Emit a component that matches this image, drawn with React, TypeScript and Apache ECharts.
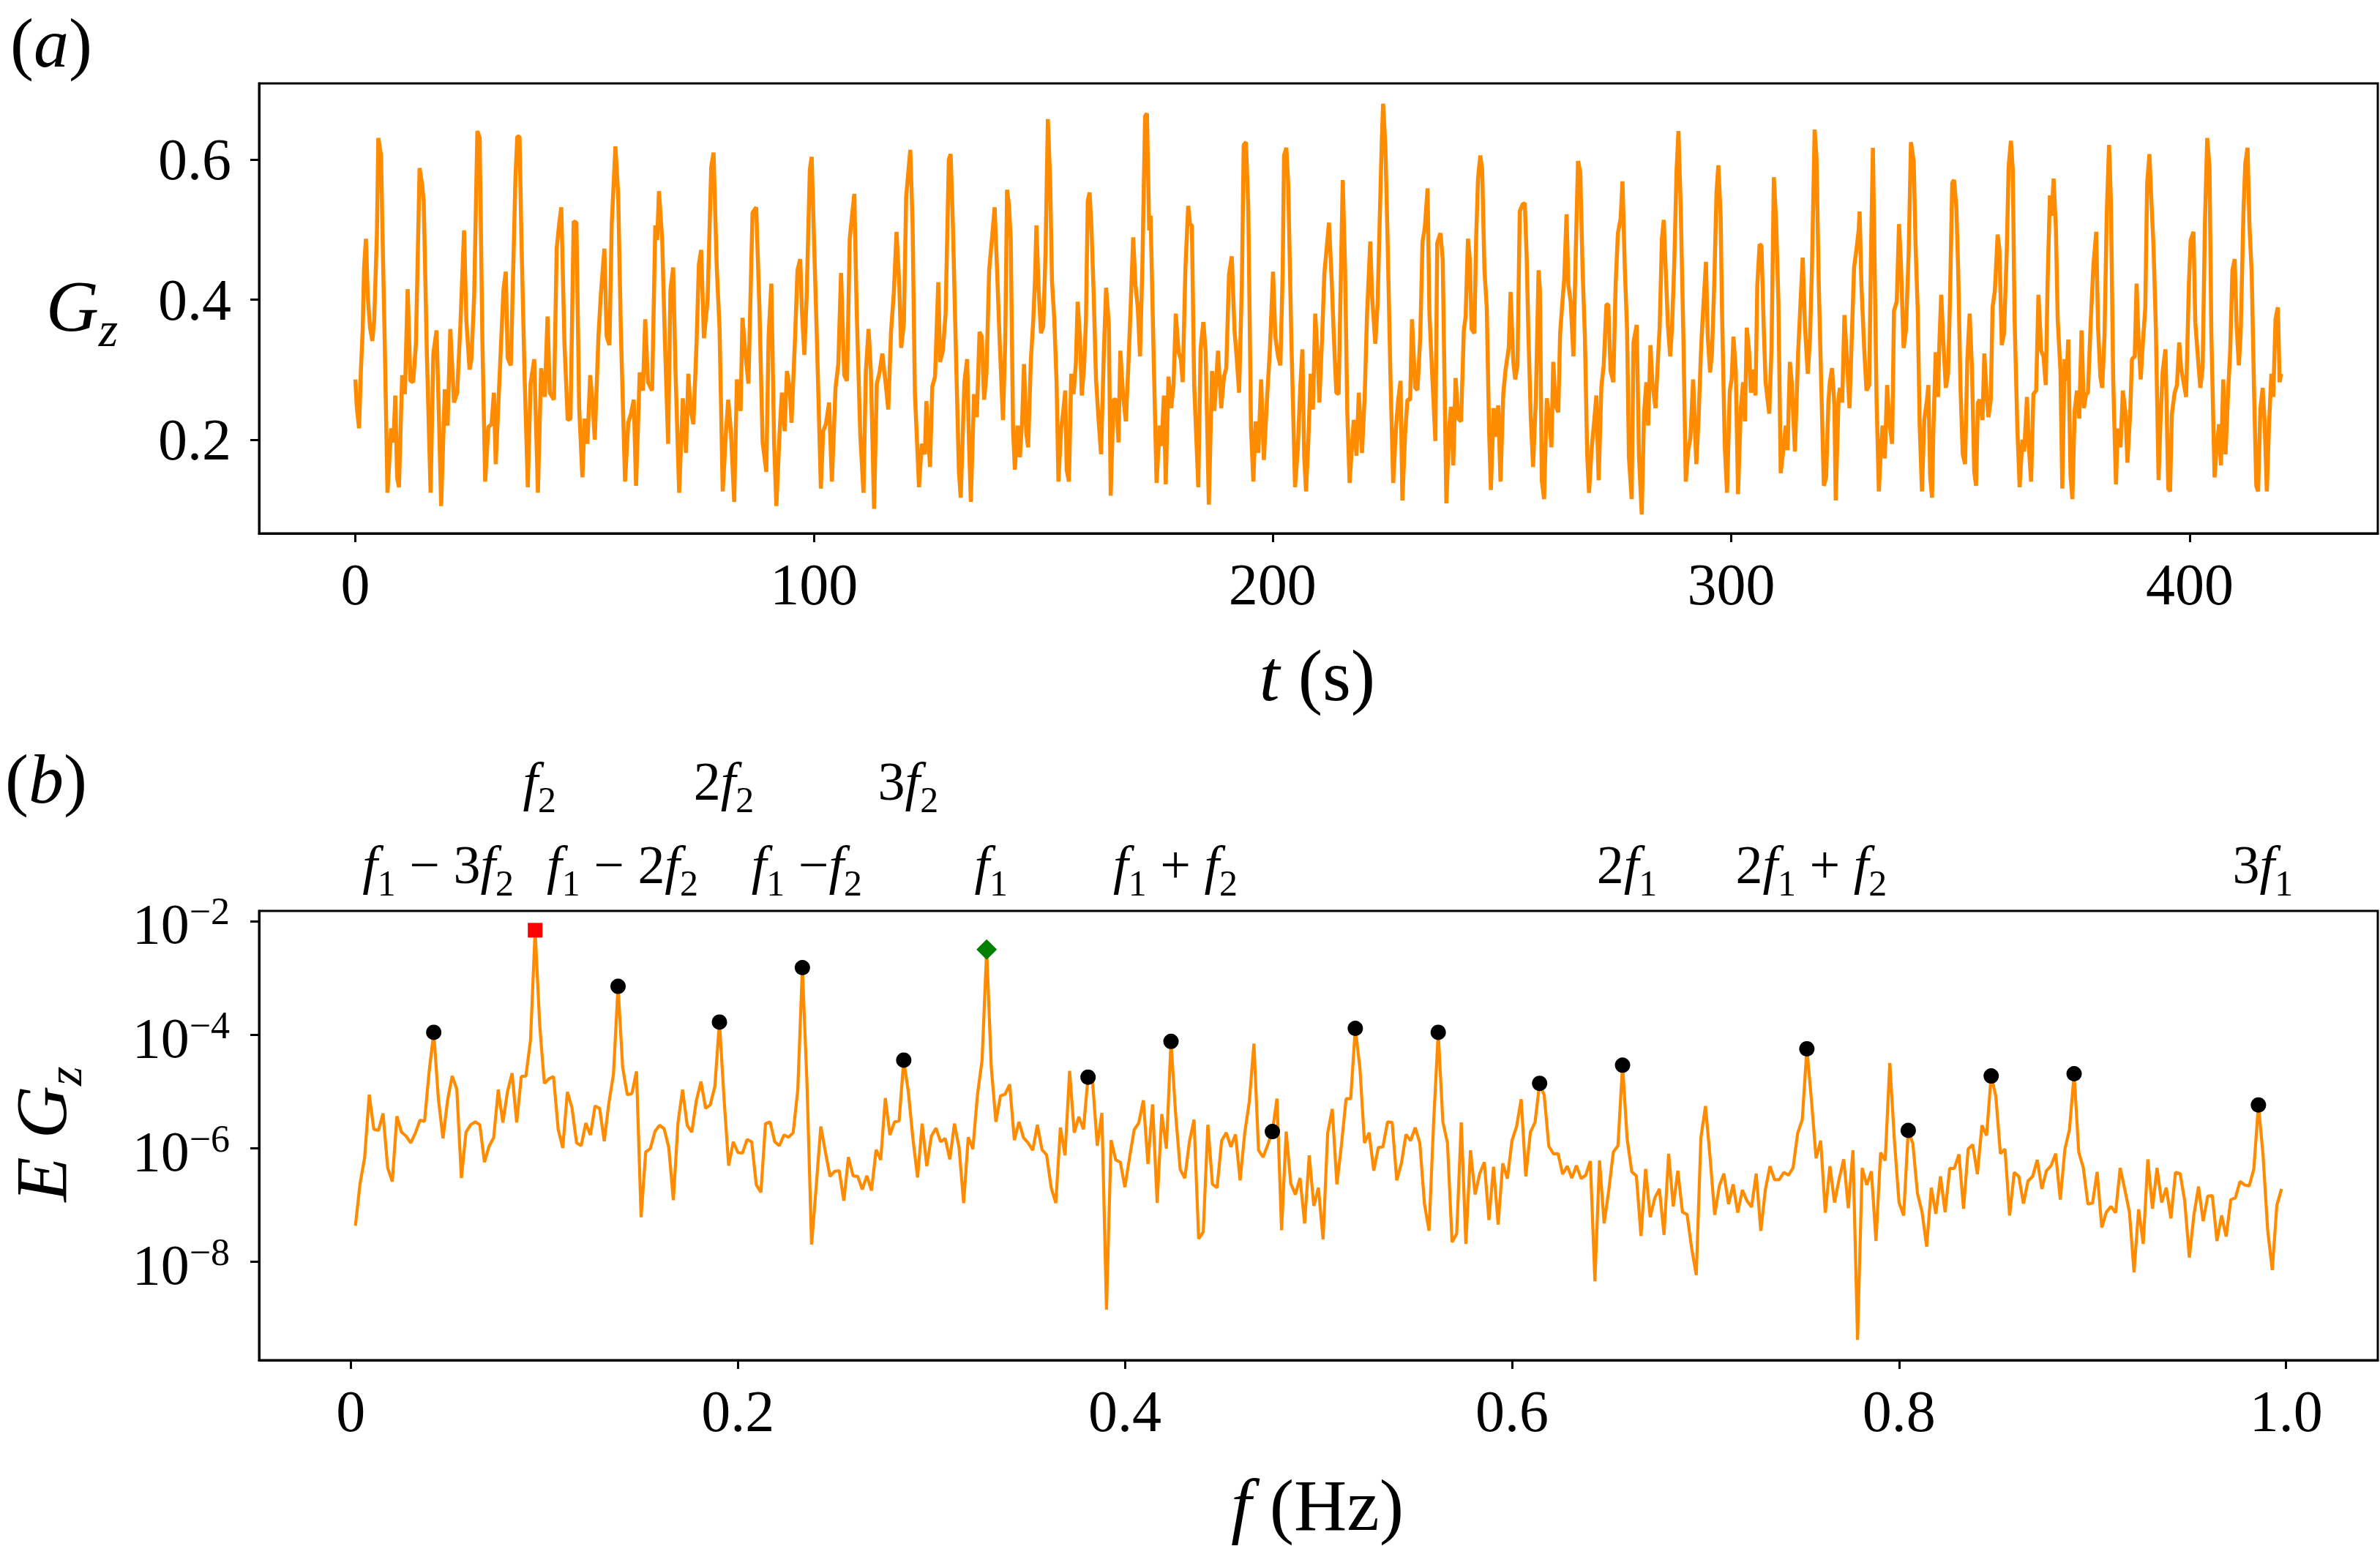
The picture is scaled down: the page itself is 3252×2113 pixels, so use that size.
import React, { useEffect, useRef } from "react";
import * as echarts from "echarts";

// ---------------- DATA ----------------
// (a) time series G_z : [t (s), G_z]
const gzSamples: [number, number][] = [
  [0.0,0.286],[0.3,0.247],[0.8,0.216],[1.2,0.298],[1.6,0.358],[1.9,0.446],[2.3,0.487],[2.7,0.405],[3.2,0.360],[3.7,0.341],
  [4.1,0.370],[4.7,0.495],[5.0,0.631],[5.6,0.606],[5.9,0.499],[6.4,0.339],[7.0,0.124],[7.8,0.216],[8.3,0.196],[8.7,0.263],
  [9.1,0.146],[9.5,0.132],[10.2,0.292],[10.8,0.265],[11.4,0.415],[12.0,0.284],[12.6,0.282],[13.2,0.337],[14.0,0.588],[14.5,0.567],
  [14.9,0.541],[15.6,0.319],[16.4,0.124],[17.0,0.323],[17.7,0.356],[18.2,0.237],[18.7,0.105],[19.5,0.272],[20.1,0.220],[20.7,0.358],
  [21.5,0.253],[22.2,0.267],[22.9,0.364],[23.7,0.499],[24.2,0.370],[24.9,0.300],[25.3,0.315],[25.9,0.405],[26.6,0.641],[27.1,0.631],
  [27.7,0.339],[28.3,0.140],[29.0,0.218],[29.7,0.222],[30.2,0.267],[30.6,0.165],[31.6,0.313],[32.3,0.415],[32.8,0.440],[33.2,0.317],
  [33.9,0.306],[34.9,0.573],[35.3,0.633],[35.8,0.633],[36.2,0.489],[36.9,0.290],[37.6,0.132],[38.2,0.280],[39.0,0.315],[39.8,0.124],
  [40.5,0.302],[41.3,0.261],[41.9,0.376],[42.4,0.267],[43.3,0.257],[43.9,0.473],[44.4,0.506],[44.9,0.532],[45.6,0.335],[46.3,0.228],
  [46.9,0.230],[47.6,0.512],[48.2,0.510],[48.8,0.245],[49.5,0.146],[50.0,0.230],[50.6,0.194],[51.2,0.292],[51.8,0.245],[52.2,0.200],
  [53.0,0.347],[53.5,0.405],[54.3,0.473],[54.8,0.347],[55.4,0.335],[55.9,0.508],[56.7,0.619],[57.3,0.551],[57.9,0.352],[58.8,0.140],
  [59.5,0.224],[60.1,0.237],[60.7,0.257],[61.2,0.134],[62.0,0.296],[62.7,0.270],[63.2,0.372],[63.8,0.282],[64.7,0.270],[65.4,0.506],
  [65.8,0.485],[66.2,0.555],[66.9,0.485],[67.5,0.339],[68.2,0.194],[68.7,0.413],[69.3,0.446],[69.8,0.298],[70.6,0.124],[71.4,0.259],
  [72.1,0.181],[72.6,0.294],[73.1,0.243],[73.7,0.222],[74.4,0.339],[74.9,0.450],[75.4,0.471],[76.0,0.345],[76.8,0.399],[77.6,0.590],
  [78.1,0.610],[78.8,0.446],[79.4,0.360],[80.1,0.126],[80.8,0.210],[81.3,0.257],[81.9,0.210],[82.6,0.111],[83.2,0.286],[84.0,0.241],
  [84.4,0.374],[85.1,0.319],[85.7,0.280],[86.6,0.524],[87.4,0.532],[88.1,0.389],[88.8,0.196],[89.6,0.154],[90.1,0.347],[90.7,0.423],
  [91.3,0.196],[91.8,0.105],[92.5,0.210],[93.0,0.267],[93.6,0.212],[94.1,0.298],[94.7,0.274],[95.1,0.224],[95.9,0.350],[96.4,0.442],
  [97.0,0.458],[97.4,0.380],[97.9,0.321],[98.4,0.405],[99.1,0.586],[99.5,0.604],[100.0,0.487],[100.6,0.352],[101.5,0.130],[102.0,0.212],
  [102.6,0.222],[103.3,0.253],[103.9,0.140],[104.7,0.274],[105.3,0.308],[105.9,0.438],[106.6,0.292],[107.2,0.284],[107.8,0.487],[108.3,0.520],
  [108.8,0.551],[109.3,0.387],[110.1,0.206],[110.8,0.124],[111.3,0.296],[111.9,0.358],[112.4,0.298],[113.1,0.101],[113.7,0.280],[114.3,0.296],
  [114.9,0.323],[115.6,0.282],[116.2,0.243],[116.8,0.354],[117.4,0.409],[118.0,0.497],[118.6,0.421],[119.0,0.331],[119.6,0.366],[120.1,0.547],
  [121.0,0.614],[121.5,0.510],[122.0,0.267],[122.9,0.132],[123.5,0.194],[124.2,0.179],[124.5,0.255],[125.3,0.161],[125.8,0.276],[126.4,0.290],
  [127.1,0.425],[127.5,0.311],[128.1,0.327],[128.7,0.380],[129.4,0.600],[129.8,0.608],[130.3,0.504],[130.9,0.339],[131.6,0.154],[132.0,0.117],
  [132.8,0.282],[133.4,0.315],[133.8,0.196],[134.2,0.111],[134.9,0.265],[135.5,0.232],[136.1,0.354],[136.6,0.347],[137.1,0.257],[137.6,0.294],
  [138.2,0.442],[138.7,0.479],[139.4,0.532],[139.9,0.446],[140.5,0.339],[141.2,0.228],[141.7,0.339],[142.1,0.557],[142.5,0.536],[142.9,0.487],
  [143.4,0.216],[143.8,0.157],[144.4,0.220],[144.9,0.175],[145.4,0.228],[145.8,0.308],[146.3,0.208],[146.7,0.189],[147.3,0.315],[147.8,0.368],
  [148.2,0.430],[148.5,0.506],[149.0,0.413],[149.5,0.352],[150.0,0.362],[150.5,0.469],[151.0,0.658],[151.5,0.569],[151.9,0.426],[152.4,0.372],
  [152.9,0.282],[153.3,0.140],[153.9,0.216],[154.3,0.237],[154.8,0.270],[155.1,0.157],[155.6,0.140],[156.1,0.294],[156.6,0.265],[157.1,0.308],
  [157.5,0.397],[158.0,0.347],[158.4,0.263],[158.9,0.304],[159.3,0.370],[159.7,0.541],[160.1,0.553],[160.5,0.504],[161.0,0.405],[161.5,0.286],
  [162.1,0.224],[162.6,0.179],[163.2,0.323],[163.7,0.417],[164.3,0.364],[164.7,0.120],[165.3,0.257],[165.9,0.257],[166.4,0.196],[166.8,0.327],
  [167.4,0.263],[168.0,0.226],[168.5,0.298],[169.0,0.380],[169.6,0.489],[170.1,0.421],[170.6,0.389],[171.1,0.319],[171.6,0.446],[172.2,0.662],
  [172.6,0.666],[173.1,0.499],[173.4,0.520],[174.0,0.339],[174.7,0.138],[175.4,0.220],[175.8,0.191],[176.3,0.263],[176.7,0.136],[177.3,0.290],
  [177.9,0.245],[178.4,0.278],[178.9,0.380],[179.5,0.325],[180.0,0.315],[180.4,0.282],[181.0,0.446],[181.6,0.534],[182.0,0.508],[182.4,0.506],
  [182.9,0.278],[183.8,0.132],[184.3,0.329],[184.9,0.368],[185.4,0.327],[186.1,0.107],[186.8,0.298],[187.3,0.241],[188.1,0.327],[188.8,0.245],
  [189.4,0.290],[189.9,0.302],[190.5,0.436],[191.1,0.462],[191.7,0.356],[192.2,0.315],[192.7,0.267],[193.3,0.421],[193.7,0.621],[194.2,0.625],
  [194.7,0.532],[195.3,0.216],[195.8,0.140],[196.3,0.226],[196.9,0.181],[197.5,0.286],[198.1,0.171],[198.9,0.271],[199.4,0.327],[200.1,0.440],
  [200.6,0.347],[201.2,0.319],[201.7,0.306],[202.2,0.438],[202.5,0.606],[203.0,0.617],[203.4,0.567],[204.1,0.341],[204.9,0.132],[205.5,0.187],
  [206.0,0.270],[206.5,0.329],[206.9,0.175],[207.3,0.126],[207.8,0.200],[208.3,0.294],[208.8,0.243],[209.3,0.380],[209.8,0.323],[210.2,0.253],
  [210.8,0.347],[211.3,0.438],[211.9,0.481],[212.3,0.510],[212.9,0.426],[213.3,0.356],[213.9,0.267],[214.4,0.265],[215.0,0.471],[215.3,0.571],
  [215.8,0.446],[216.3,0.237],[216.8,0.138],[217.4,0.200],[217.7,0.228],[218.3,0.177],[218.8,0.267],[219.5,0.181],[220.1,0.265],[220.6,0.380],
  [221.3,0.483],[221.7,0.405],[222.4,0.337],[222.9,0.393],[223.4,0.524],[223.8,0.623],[224.1,0.680],[224.6,0.618],[225.1,0.479],[225.7,0.290],
  [226.3,0.138],[226.9,0.216],[227.4,0.257],[227.9,0.284],[228.3,0.113],[228.9,0.208],[229.4,0.257],[230.0,0.257],[230.4,0.372],[231.1,0.274],
  [231.6,0.271],[232.2,0.347],[232.7,0.483],[233.2,0.503],[233.8,0.559],[234.2,0.380],[234.8,0.294],[235.5,0.198],[235.9,0.481],[236.6,0.495],
  [237.1,0.458],[237.5,0.278],[237.9,0.109],[238.5,0.216],[238.9,0.247],[239.4,0.163],[239.9,0.288],[240.5,0.230],[241.1,0.226],[241.7,0.356],
  [242.1,0.376],[242.6,0.487],[243.0,0.458],[243.4,0.358],[244.0,0.352],[244.4,0.491],[244.8,0.573],[245.3,0.606],[245.7,0.586],[246.2,0.442],
  [246.7,0.389],[247.2,0.216],[247.6,0.128],[248.2,0.245],[248.7,0.204],[249.2,0.249],[249.7,0.140],[250.3,0.265],[250.8,0.300],[251.5,0.331],
  [251.9,0.411],[252.5,0.311],[252.9,0.286],[253.4,0.306],[253.9,0.526],[254.5,0.536],[255.0,0.538],[255.4,0.462],[255.8,0.347],[256.3,0.232],
  [256.8,0.161],[257.4,0.257],[258.0,0.442],[258.3,0.413],[258.7,0.142],[259.2,0.115],[259.8,0.259],[260.4,0.228],[260.8,0.189],[261.2,0.311],
  [261.7,0.249],[262.3,0.239],[262.7,0.352],[263.3,0.405],[263.6,0.430],[264.1,0.522],[264.5,0.421],[265.0,0.397],[265.6,0.319],[266.1,0.466],
  [266.6,0.598],[267.1,0.582],[267.6,0.442],[268.1,0.347],[268.6,0.179],[269.0,0.124],[269.6,0.189],[270.1,0.224],[270.6,0.263],[271.1,0.142],
  [271.7,0.276],[272.2,0.306],[272.8,0.393],[273.2,0.393],[273.7,0.298],[274.3,0.282],[274.8,0.421],[275.3,0.495],[275.9,0.516],[276.3,0.569],
  [276.8,0.446],[277.3,0.356],[277.7,0.175],[278.3,0.115],[278.7,0.339],[279.4,0.364],[279.9,0.175],[280.5,0.093],[281.0,0.237],[281.5,0.282],
  [281.9,0.220],[282.4,0.335],[282.8,0.282],[283.5,0.245],[283.9,0.298],[284.4,0.360],[284.9,0.487],[285.3,0.514],[285.8,0.430],[286.2,0.364],
  [286.7,0.319],[287.1,0.360],[287.6,0.454],[288.1,0.586],[288.5,0.641],[289.0,0.532],[289.3,0.434],[289.6,0.339],[290.1,0.140],[290.6,0.183],
  [291.1,0.202],[291.7,0.286],[292.4,0.165],[292.9,0.232],[293.4,0.323],[293.7,0.364],[294.5,0.454],[294.9,0.347],[295.4,0.296],[295.8,0.323],
  [296.3,0.421],[296.8,0.553],[297.2,0.592],[297.7,0.520],[298.0,0.384],[298.6,0.191],[299.1,0.124],[299.7,0.270],[300.1,0.286],[300.5,0.347],
  [301.0,0.298],[301.5,0.122],[302.1,0.245],[302.6,0.282],[303.0,0.226],[303.4,0.360],[303.9,0.327],[304.3,0.267],[304.8,0.300],[305.3,0.263],
  [305.7,0.421],[306.2,0.479],[306.6,0.477],[307.1,0.360],[307.5,0.282],[308.3,0.237],[308.8,0.331],[309.3,0.575],[309.8,0.512],[310.3,0.397],
  [310.8,0.152],[311.4,0.187],[311.9,0.220],[312.3,0.185],[312.8,0.311],[313.2,0.282],[313.9,0.183],[314.6,0.325],[315.1,0.393],[315.6,0.460],
  [316.1,0.360],[316.7,0.294],[317.2,0.347],[317.6,0.442],[318.2,0.643],[318.6,0.604],[319.1,0.421],[319.5,0.315],[320.2,0.134],[320.7,0.146],
  [321.2,0.253],[321.5,0.282],[322.0,0.302],[322.5,0.249],[322.8,0.113],[323.4,0.257],[323.7,0.274],[324.2,0.253],[324.7,0.378],[325.2,0.319],
  [325.8,0.245],[326.2,0.327],[326.8,0.446],[327.3,0.471],[327.8,0.499],[328.0,0.526],[328.4,0.421],[329.0,0.331],[329.5,0.270],[330.1,0.278],
  [330.5,0.471],[330.9,0.617],[331.2,0.487],[331.7,0.257],[332.2,0.126],[332.6,0.179],[333.0,0.220],[333.5,0.173],[334.0,0.278],[334.5,0.224],
  [335.1,0.194],[335.5,0.384],[336.1,0.397],[336.6,0.508],[337.0,0.454],[337.6,0.331],[338.1,0.356],[338.7,0.466],[339.2,0.625],[339.8,0.598],
  [340.2,0.479],[340.7,0.380],[341.1,0.220],[341.6,0.126],[342.1,0.228],[342.7,0.257],[343.0,0.278],[343.4,0.146],[343.8,0.117],[344.1,0.216],
  [344.6,0.325],[345.1,0.261],[345.4,0.339],[345.8,0.407],[346.3,0.335],[346.8,0.274],[347.3,0.294],[347.7,0.397],[348.2,0.567],[348.6,0.571],
  [349.1,0.532],[349.5,0.442],[350.0,0.274],[350.5,0.179],[351.0,0.165],[351.5,0.315],[352.0,0.380],[352.5,0.302],[353.0,0.154],[353.4,0.134],
  [353.8,0.253],[354.2,0.257],[354.8,0.228],[355.2,0.323],[355.7,0.265],[356.1,0.232],[356.6,0.257],[357.0,0.389],[357.5,0.413],[358.1,0.493],
  [358.5,0.471],[359.0,0.335],[359.5,0.352],[360.1,0.471],[360.5,0.590],[361.0,0.627],[361.4,0.586],[361.8,0.372],[362.4,0.216],[362.9,0.132],
  [363.5,0.200],[363.9,0.183],[364.5,0.261],[364.9,0.191],[365.4,0.140],[365.9,0.265],[366.5,0.270],[367.0,0.407],[367.6,0.327],[368.1,0.319],
  [368.6,0.278],[369.0,0.426],[369.5,0.549],[369.9,0.520],[370.3,0.573],[370.8,0.503],[371.2,0.372],[371.8,0.298],[372.2,0.130],[372.7,0.315],
  [373.1,0.284],[373.5,0.343],[374.0,0.148],[374.4,0.115],[374.9,0.241],[375.4,0.270],[375.9,0.230],[376.4,0.356],[376.9,0.245],[377.4,0.265],
  [377.8,0.267],[378.4,0.368],[379.0,0.450],[379.6,0.497],[380.0,0.360],[380.5,0.290],[380.9,0.274],[381.4,0.347],[381.9,0.524],[382.4,0.621],
  [382.8,0.541],[383.3,0.286],[383.9,0.136],[384.3,0.216],[384.9,0.189],[385.4,0.270],[386.0,0.237],[386.4,0.167],[387.0,0.237],[387.4,0.315],
  [388.0,0.319],[388.4,0.423],[388.8,0.347],[389.3,0.286],[389.7,0.331],[390.3,0.389],[390.7,0.565],[391.2,0.608],[391.6,0.545],[392.1,0.475],
  [392.6,0.360],[393.2,0.142],[393.6,0.224],[394.1,0.298],[394.7,0.329],[395.3,0.130],[395.7,0.126],[396.1,0.237],[396.7,0.267],[397.2,0.278],
  [397.7,0.339],[398.1,0.302],[398.7,0.280],[399.2,0.261],[399.8,0.421],[400.2,0.485],[400.8,0.497],[401.2,0.368],[401.8,0.315],[402.3,0.274],
  [402.8,0.302],[403.3,0.508],[403.8,0.631],[404.3,0.590],[404.7,0.352],[405.4,0.146],[405.9,0.191],[406.4,0.222],[406.8,0.163],[407.3,0.286],
  [407.8,0.179],[408.4,0.274],[408.8,0.325],[409.3,0.442],[409.8,0.458],[410.2,0.364],[410.7,0.306],[411.1,0.352],[411.7,0.524],[412.1,0.594],
  [412.6,0.617],[413.0,0.508],[413.5,0.438],[414.0,0.274],[414.5,0.134],[414.9,0.126],[415.4,0.245],[415.9,0.274],[416.3,0.228],[416.8,0.126],
  [417.3,0.224],[417.8,0.294],[418.2,0.261],[418.7,0.372],[419.2,0.389],[419.6,0.282],[419.9,0.294]
];

// (b) spectrum: log10(E G_z) at bins k = 1..419, f = k * freqStep
const freqStep = 1 / 420;
const spectrumLog10 = [
  -7.37,-6.63,-6.17,-5.06,-5.67,-5.69,-5.39,-6.35,-6.59,-5.44,
  -5.72,-5.79,-5.91,-5.74,-5.51,-5.53,-4.65,-3.96,-5.13,-5.83,
  -5.16,-4.73,-4.96,-6.53,-5.72,-5.59,-5.54,-5.59,-6.25,-5.97,
  -5.82,-4.97,-5.55,-5.01,-4.68,-5.55,-4.74,-4.73,-4.10,-2.16,
  -3.84,-4.86,-4.78,-4.74,-5.67,-6.00,-5.01,-5.29,-5.91,-5.96,
  -5.56,-5.77,-5.26,-5.30,-5.88,-5.21,-4.70,-3.15,-4.58,-5.06,
  -5.04,-4.65,-7.22,-6.07,-6.01,-5.71,-5.60,-5.66,-5.99,-6.92,
  -5.56,-4.97,-5.60,-5.72,-5.16,-4.83,-5.30,-5.24,-4.92,-3.78,
  -5.13,-6.31,-5.89,-6.08,-6.09,-5.85,-5.89,-6.65,-6.78,-5.57,
  -5.54,-5.89,-5.96,-5.77,-5.81,-5.73,-4.98,-2.82,-4.86,-7.70,
  -6.68,-5.62,-6.07,-6.50,-6.41,-6.40,-6.93,-6.16,-6.49,-6.50,
  -6.73,-6.49,-6.75,-6.03,-6.21,-5.12,-5.77,-5.54,-5.52,-4.45,
  -5.01,-5.84,-6.52,-5.57,-6.32,-5.79,-5.65,-5.89,-5.83,-6.20,
  -5.57,-5.99,-6.97,-5.81,-6.02,-5.06,-4.45,-2.50,-4.58,-5.54,
  -5.08,-5.05,-4.88,-5.86,-5.54,-5.82,-5.91,-6.04,-5.59,-6.03,
  -6.12,-6.70,-6.97,-5.64,-6.13,-4.64,-5.73,-5.45,-5.67,-4.75,
  -4.85,-5.96,-5.38,-8.85,-5.86,-6.21,-6.25,-6.69,-6.17,-5.68,
  -5.56,-5.16,-6.28,-5.23,-6.97,-5.40,-6.01,-4.12,-5.39,-6.38,
  -6.53,-5.89,-5.50,-7.60,-7.48,-5.59,-6.64,-6.70,-5.87,-5.73,
  -5.98,-5.76,-6.57,-5.74,-5.18,-4.16,-6.04,-6.16,-5.94,-5.71,
  -5.13,-7.45,-5.71,-6.63,-6.82,-6.53,-7.33,-6.13,-7.02,-6.70,
  -7.61,-5.74,-5.31,-6.64,-5.94,-5.13,-5.13,-3.89,-4.59,-5.91,
  -5.73,-6.40,-5.99,-5.98,-5.54,-5.55,-6.57,-6.27,-5.76,-5.87,
  -5.64,-5.91,-6.98,-7.46,-5.54,-3.96,-5.54,-5.91,-7.66,-7.51,
  -5.55,-7.69,-6.04,-6.82,-6.45,-6.25,-7.27,-6.33,-7.35,-6.27,
  -6.54,-5.87,-5.62,-5.14,-6.50,-5.72,-5.55,-4.86,-5.07,-5.97,
  -6.10,-6.10,-6.46,-6.32,-6.53,-6.31,-6.54,-6.48,-6.23,-8.35,
  -6.22,-7.33,-6.75,-6.07,-5.96,-4.54,-5.84,-6.42,-6.49,-7.55,
  -6.37,-7.22,-6.88,-6.72,-7.53,-6.10,-7.03,-6.40,-7.13,-7.17,
  -7.77,-8.24,-5.82,-5.26,-6.17,-7.18,-6.67,-6.45,-6.99,-6.64,
  -7.14,-6.74,-6.93,-7.04,-6.45,-7.46,-6.73,-6.32,-6.56,-6.56,
  -6.43,-6.48,-6.35,-5.74,-5.50,-4.25,-5.16,-6.18,-5.87,-7.14,
  -6.32,-6.96,-6.55,-6.20,-7.06,-6.04,-9.38,-6.35,-6.65,-6.41,
  -7.64,-6.08,-6.22,-4.50,-5.87,-6.96,-7.19,-5.69,-5.92,-6.80,
  -7.13,-7.74,-6.70,-7.16,-6.50,-7.13,-6.36,-6.36,-6.11,-7.07,
  -6.02,-5.94,-6.46,-5.60,-5.78,-4.73,-5.08,-6.10,-6.02,-7.19,
  -6.43,-6.50,-6.98,-6.58,-6.50,-6.21,-6.72,-6.40,-6.31,-6.10,
  -6.91,-6.02,-5.67,-4.69,-6.07,-6.35,-6.99,-6.97,-6.42,-7.40,
  -7.13,-7.03,-7.14,-6.35,-6.73,-7.13,-8.19,-7.08,-7.69,-6.20,
  -7.07,-6.35,-6.96,-6.70,-7.24,-6.43,-6.45,-6.93,-7.93,-7.18,
  -6.68,-7.29,-6.85,-6.84,-7.64,-7.19,-7.56,-6.91,-6.88,-6.59,
  -6.65,-6.67,-6.37,-5.24,-6.12,-7.44,-8.15,-7.01,-6.72
];

const f2Bin = 40;   // red square
const f1Bin = 138;  // green diamond
const peakBins = [18, 58, 80, 98, 120, 160, 178, 200, 218, 236, 258, 276, 316, 338, 356, 374, 414];

// annotation labels: [bin, rich text]
const upperLabels: [number, string][] = [
  [40, "{i|f}{s|2}"],
  [80, "{r|2}{i|f}{s|2}"],
  [120, "{r|3}{i|f}{s|2}"],
];
const lowerLabels: [number, string][] = [
  [18, "{i|f}{s|1}{r| − 3}{i|f}{s|2}"],
  [58, "{i|f}{s|1}{r| − 2}{i|f}{s|2}"],
  [98, "{i|f}{s|1}{r| −}{i|f}{s|2}"],
  [138, "{i|f}{s|1}"],
  [178, "{i|f}{s|1}{r| + }{i|f}{s|2}"],
  [276, "{r|2}{i|f}{s|1}"],
  [316, "{r|2}{i|f}{s|1}{r| + }{i|f}{s|2}"],
  [414, "{r|3}{i|f}{s|1}"],
];

const timeTicks = [0, 100, 200, 300, 400];
const gzTicks = [0.2, 0.4, 0.6];
const freqTicks = [0, 0.2, 0.4, 0.6, 0.8, 1.0];
const spectrumTicks = [1e-8, 1e-6, 1e-4, 1e-2];

// ---------------- STYLE ----------------
const FONT = '"Liberation Serif", "Times New Roman", serif';
const ORANGE = "#ff8c00";
const W = 3252;
const H = 2113;

const richBase = (size: number, sub: number, subPad: number, lh: number) => ({
  i: { fontFamily: FONT, fontSize: size, fontStyle: "italic", fill: "#000", color: "#000", lineHeight: lh },
  r: { fontFamily: FONT, fontSize: size, fill: "#000", color: "#000", lineHeight: lh },
  s: { fontFamily: FONT, fontSize: sub, fill: "#000", color: "#000", padding: [subPad, 0, 0, 0], lineHeight: lh },
  si: { fontFamily: FONT, fontSize: sub, fontStyle: "italic", fill: "#000", color: "#000", padding: [subPad, 0, 0, 0], lineHeight: lh },
});

export default function App() {
  const ref = useRef<HTMLDivElement>(null);

  useEffect(() => {
    if (!ref.current) return;
    const chart = echarts.init(ref.current, undefined, { renderer: "svg" });

    const axisLineStyle = { color: "#000", width: 3 };
    const tickLabel = { fontFamily: FONT, fontSize: 80, color: "#000" };

    const option: any = {
      animation: false,
      backgroundColor: "#fff",
      grid: [
        { left: 354, top: 114, width: 2895, height: 615, show: true, borderColor: "#000", borderWidth: 3, backgroundColor: "transparent" },
        { left: 354, top: 1245, width: 2895, height: 614, show: true, borderColor: "#000", borderWidth: 3, backgroundColor: "transparent" },
      ],
      xAxis: [
        {
          type: "value", gridIndex: 0, min: -21, max: 441,
          axisLine: { show: true, onZero: false, lineStyle: axisLineStyle },
          axisTick: { show: true, length: 12, lineStyle: { width: 3, color: "#000" }, customValues: timeTicks },
          axisLabel: { ...tickLabel, margin: 30, customValues: timeTicks, formatter: (v: number) => String(v) },
          splitLine: { show: false },
        },
        {
          type: "value", gridIndex: 1, min: -0.0474, max: 1.0474,
          axisLine: { show: true, onZero: false, lineStyle: axisLineStyle },
          axisTick: { show: true, length: 12, lineStyle: { width: 3, color: "#000" }, customValues: freqTicks },
          axisLabel: { ...tickLabel, margin: 30, customValues: freqTicks, formatter: (v: number) => (v === 0 ? "0" : v.toFixed(1)) },
          splitLine: { show: false },
        },
      ],
      yAxis: [
        {
          type: "value", gridIndex: 0, min: 0.066, max: 0.709,
          axisLine: { show: true, onZero: false, lineStyle: axisLineStyle },
          axisTick: { show: true, length: 12, lineStyle: { width: 3, color: "#000" }, customValues: gzTicks },
          axisLabel: { ...tickLabel, margin: 38, customValues: gzTicks, formatter: (v: number) => v.toFixed(1) },
          splitLine: { show: false },
        },
        {
          type: "log", logBase: 10, gridIndex: 1, min: Math.pow(10, -9.74), max: Math.pow(10, -1.82),
          axisLine: { show: true, onZero: false, lineStyle: axisLineStyle },
          axisTick: { show: true, length: 12, lineStyle: { width: 3, color: "#000" }, customValues: spectrumTicks },
          axisLabel: {
            margin: 40,
            customValues: spectrumTicks,
            formatter: (v: number) => {
              const e = Math.round(Math.log10(v));
              return "{b|10}{sup|−" + Math.abs(e) + "}";
            },
            rich: {
              b: { fontFamily: FONT, fontSize: 78, color: "#000", padding: [8, 0, 0, 0], lineHeight: 80 },
              sup: { fontFamily: FONT, fontSize: 52, color: "#000", padding: [0, 0, 26, 0], lineHeight: 80 },
            },
          },
          splitLine: { show: false },
        },
      ],
      series: [
        {
          type: "line", xAxisIndex: 0, yAxisIndex: 0,
          data: gzSamples,
          showSymbol: false, symbol: "none",
          lineStyle: { color: ORANGE, width: 5.5 },
          silent: true, z: 2,
        },
        {
          type: "line", xAxisIndex: 1, yAxisIndex: 1,
          data: spectrumLog10.map((v, i) => [(i + 1) * freqStep, Math.pow(10, v)]),
          showSymbol: false, symbol: "none",
          lineStyle: { color: ORANGE, width: 4.2 },
          silent: true, z: 2,
        },
        {
          type: "scatter", xAxisIndex: 1, yAxisIndex: 1,
          data: peakBins.map((k) => [k * freqStep, Math.pow(10, spectrumLog10[k - 1])]),
          symbol: "circle", symbolSize: 21,
          itemStyle: { color: "#000", opacity: 1 },
          silent: true, z: 3,
        },
        {
          type: "scatter", xAxisIndex: 1, yAxisIndex: 1,
          data: [[f2Bin * freqStep, Math.pow(10, spectrumLog10[f2Bin - 1])]],
          symbol: "rect", symbolSize: 20,
          itemStyle: { color: "#ff0000", opacity: 1 },
          silent: true, z: 3,
        },
        {
          type: "scatter", xAxisIndex: 1, yAxisIndex: 1,
          data: [[f1Bin * freqStep, Math.pow(10, spectrumLog10[f1Bin - 1])]],
          symbol: "diamond", symbolSize: [28, 28],
          itemStyle: { color: "#008000", opacity: 1 },
          silent: true, z: 3,
        },
      ],
    };

    chart.setOption(option);

    const xPix = (bin: number) => chart.convertToPixel({ xAxisIndex: 1 }, bin * freqStep) as number;
    const annRich = richBase(74, 50, 50, 80);
    const nameRich = richBase(100, 68, 64, 100);

    const txt = (x: number, y: number, text: string, rich: any, extra: any = {}) => ({
      type: "text",
      x, y,
      silent: true,
      ...extra,
      style: { text, rich, fill: "#000", align: "center", verticalAlign: "middle", fontFamily: FONT },
    });

    const graphics: any[] = [
      txt(70, 58, "{r|(}{i|a}{r|)}", richBase(96, 60, 0, 100)),
      txt(63, 1064, "{r|(}{i|b}{r|)}", richBase(96, 60, 0, 100)),
      txt(112, 418, "{i|G}{si|z}", nameRich),
      txt(1800, 923, "{i|t}{r| (s)}", nameRich),
      txt(1800, 2057, "{i|f}{r| (Hz)}", nameRich),
      txt(56, 1550, "{i|E}{r| }{i|G}{si|z}", nameRich, { rotation: Math.PI / 2 }),
      ...upperLabels.map(([k, t]) => txt(xPix(k) + 6, 1068, t, annRich)),
      ...lowerLabels.map(([k, t]) => txt(xPix(k) + 6, 1182, t, annRich)),
    ];

    chart.setOption({ graphic: graphics });

    return () => chart.dispose();
  }, []);

  return (
    <div
      ref={ref}
      style={{ position: "absolute", left: 0, top: 0, width: W, height: H, background: "#fff" }}
    />
  );
}
